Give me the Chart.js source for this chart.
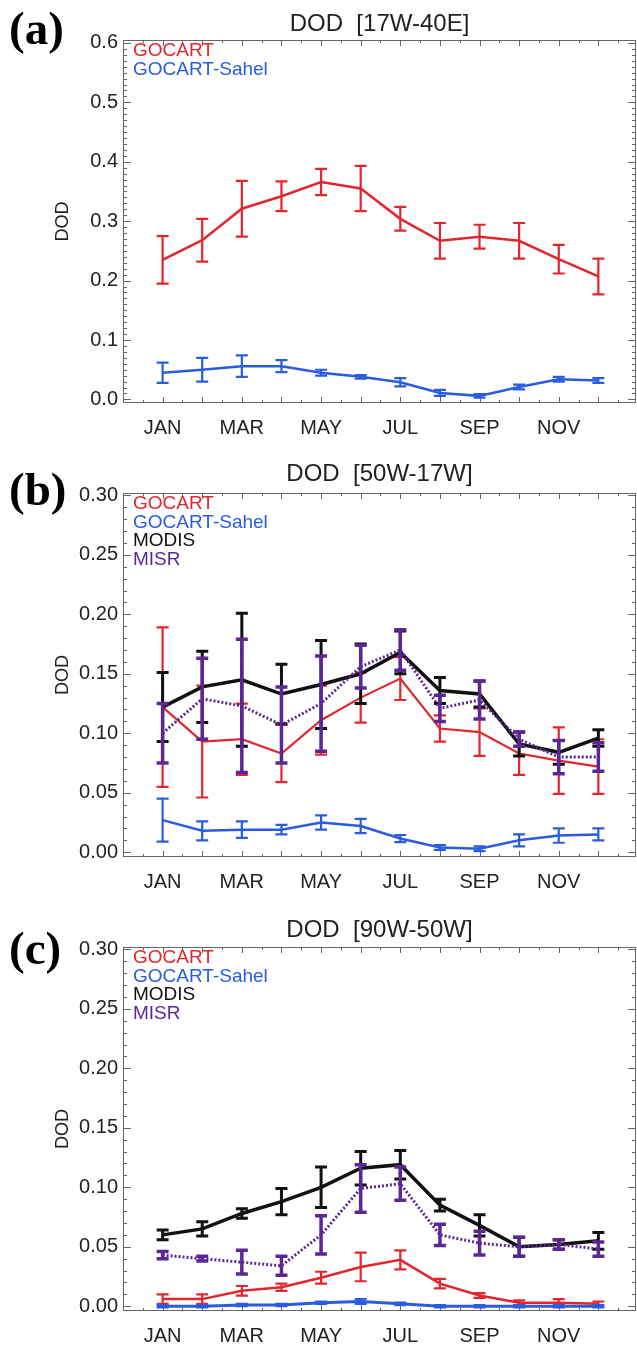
<!DOCTYPE html>
<html>
<head>
<meta charset="utf-8">
<title>DOD</title>
<script src="https://cdn.jsdelivr.net/npm/chart.js@4.4.1/dist/chart.umd.min.js"></script>
<style>
  body { margin: 0; background: #fff; }
  #page { position: relative; width: 637px; height: 1348px; overflow: hidden; }
  .panel { position: absolute; left: 0; width: 637px; }
  .tag { position: absolute; left: 9px; font: bold 47px 'Liberation Serif', 'Times New Roman', serif; line-height: 47px; color: #000; }
</style>
</head>
<body>
<div id="page">
  <div class="panel" style="top:0;height:450px"><canvas id="chartA" width="637" height="450"></canvas></div>
  <div class="panel" style="top:450px;height:450px"><canvas id="chartB" width="637" height="450"></canvas></div>
  <div class="panel" style="top:900px;height:448px"><canvas id="chartC" width="637" height="448"></canvas></div>
  <div class="tag" style="top:5px">(a)</div>
  <div class="tag" style="top:466px">(b)</div>
  <div class="tag" style="top:925px">(c)</div>
</div>
<script>
// months and x tick labels
const months = ['JAN', 'FEB', 'MAR', 'APR', 'MAY', 'JUN', 'JUL', 'AUG', 'SEP', 'OCT', 'NOV', 'DEC'];
const monthNum = [1, 2, 3, 4, 5, 6, 7, 8, 9, 10, 11, 12];
const xTickMonths = [1, 3, 5, 7, 9, 11];

// y tick labels
const aYTicks = [0, 0.1, 0.2, 0.3, 0.4, 0.5, 0.6];
const bcYTicks = [0, 0.05, 0.10, 0.15, 0.20, 0.25, 0.30];

// (a) DOD [17W-40E]
const aGocart = [0.235, 0.268, 0.321, 0.342, 0.366, 0.355, 0.304, 0.267, 0.274, 0.267, 0.236, 0.207];
const aGocartErr = [0.040, 0.036, 0.047, 0.025, 0.022, 0.038, 0.020, 0.030, 0.020, 0.030, 0.024, 0.030];
const aSahel = [0.045, 0.050, 0.056, 0.056, 0.045, 0.038, 0.029, 0.011, 0.006, 0.021, 0.034, 0.032];
const aSahelErr = [0.017, 0.020, 0.018, 0.010, 0.005, 0.003, 0.007, 0.005, 0.003, 0.004, 0.004, 0.004];

// (b) DOD [50W-17W]
const bGocart = [0.122, 0.093, 0.095, 0.083, 0.111, 0.130, 0.146, 0.104, 0.101, 0.083, 0.077, 0.072];
const bGocartErr = [0.067, 0.047, 0.030, 0.024, 0.029, 0.021, 0.018, 0.011, 0.020, 0.018, 0.028, 0.023];
const bSahel = [0.027, 0.018, 0.019, 0.019, 0.025, 0.022, 0.0115, 0.004, 0.003, 0.010, 0.014, 0.015];
const bSahelErr = [0.018, 0.008, 0.007, 0.004, 0.006, 0.006, 0.003, 0.002, 0.002, 0.005, 0.006, 0.005];
const bModis = [0.122, 0.139, 0.145, 0.133, 0.141, 0.150, 0.168, 0.136, 0.133, 0.091, 0.084, 0.096];
const bModisErr = [0.029, 0.030, 0.056, 0.025, 0.037, 0.025, 0.018, 0.011, 0.011, 0.010, 0.010, 0.007];
const bMisr = [0.100, 0.129, 0.123, 0.107, 0.125, 0.156, 0.170, 0.121, 0.128, 0.095, 0.080, 0.080];
const bMisrErr = [0.025, 0.034, 0.056, 0.032, 0.040, 0.018, 0.017, 0.011, 0.016, 0.006, 0.014, 0.012];

// (c) DOD [90W-50W]
const cGocart = [0.006, 0.006, 0.013, 0.016, 0.024, 0.033, 0.039, 0.019, 0.009, 0.003, 0.003, 0.002];
const cGocartErr = [0.004, 0.004, 0.004, 0.003, 0.005, 0.012, 0.008, 0.004, 0.002, 0.002, 0.003, 0.002];
const cSahel = [0.000, 0.000, 0.001, 0.001, 0.003, 0.004, 0.002, 0.000, 0.000, 0.000, 0.000, 0.000];
const cSahelErr = [0.001, 0.001, 0.001, 0.001, 0.001, 0.002, 0.001, 0.001, 0.001, 0.001, 0.001, 0.001];
const cModis = [0.060, 0.065, 0.078, 0.088, 0.100, 0.116, 0.119, 0.085, 0.068, 0.050, 0.052, 0.055];
const cModisErr = [0.004, 0.006, 0.004, 0.011, 0.017, 0.014, 0.012, 0.005, 0.009, 0.008, 0.004, 0.007];
const cMisr = [0.043, 0.040, 0.037, 0.034, 0.060, 0.099, 0.103, 0.060, 0.053, 0.050, 0.052, 0.048];
const cMisrErr = [0.003, 0.002, 0.010, 0.008, 0.016, 0.020, 0.014, 0.009, 0.010, 0.008, 0.004, 0.006];

const RED = '#e3262d';
const BLUE = '#2a5ce0';
const BLACK = '#111111';
const PURPLE = '#5b2796';

Chart.defaults.font.family = "'Liberation Sans', Arial, sans-serif";

// box round the plot, ticks pointing inwards
const framePlugin = {
  id: 'frame',
  beforeDatasetsDraw(chart, args, opts) {
    const { ctx, chartArea: a, scales: { x, y } } = chart;
    ctx.save();
    ctx.strokeStyle = '#666';
    ctx.lineWidth = 1;
    ctx.strokeRect(a.left + 0.5, a.top + 0.5, a.width - 1, a.height - 1);
    ctx.beginPath();
    for (let k = 0; k / 2 <= x.max; k++) {
      const px = Math.round(x.getPixelForValue(k / 2)) + 0.5;
      const len = k % 2 === 0 ? 6 : 3;
      ctx.moveTo(px, a.bottom); ctx.lineTo(px, a.bottom - len);
      ctx.moveTo(px, a.top); ctx.lineTo(px, a.top + len);
    }
    for (let k = 0; k * opts.minor <= y.max + 1e-9; k++) {
      const v = k * opts.minor;
      const r = v / opts.major;
      const len = Math.abs(r - Math.round(r)) < 1e-6 ? 8 : 4;
      const py = Math.round(y.getPixelForValue(v)) + 0.5;
      ctx.moveTo(a.left, py); ctx.lineTo(a.left + len, py);
      ctx.moveTo(a.right, py); ctx.lineTo(a.right - len, py);
    }
    ctx.stroke();
    ctx.restore();
  }
};

// vertical error bars with caps, drawn right after each line
const errorBarPlugin = {
  id: 'errorBars',
  afterDatasetDraw(chart, args) {
    const ds = chart.data.datasets[args.index];
    const y = chart.scales.y;
    const ctx = chart.ctx;
    const cap = 6;
    ctx.save();
    ctx.strokeStyle = ds.borderColor;
    ctx.lineWidth = ds.errWidth;
    ctx.setLineDash([]);
    ctx.beginPath();
    args.meta.data.forEach((pt, i) => {
      const v = ds.data[i].y;
      const e = ds.errors[i];
      const hi = y.getPixelForValue(v + e);
      const lo = y.getPixelForValue(v - e);
      ctx.moveTo(pt.x, hi); ctx.lineTo(pt.x, lo);
      ctx.moveTo(pt.x - cap, hi); ctx.lineTo(pt.x + cap, hi);
      ctx.moveTo(pt.x - cap, lo); ctx.lineTo(pt.x + cap, lo);
    });
    ctx.stroke();
    ctx.restore();
  }
};

// coloured series names in the top left corner
const legendTextPlugin = {
  id: 'legendText',
  afterDraw(chart) {
    const { ctx, chartArea: a } = chart;
    ctx.save();
    ctx.font = "19px 'Liberation Sans', Arial, sans-serif";
    ctx.textBaseline = 'middle';
    ctx.textAlign = 'left';
    chart.data.datasets.forEach((ds, i) => {
      ctx.fillStyle = ds.borderColor;
      ctx.fillText(ds.label, a.left + 10, a.top + 11 + i * 18.6);
    });
    ctx.restore();
  }
};

function makeSeries(label, values, errors, color, width, errWidth, order, dash) {
  return {
    label: label,
    data: monthNum.map((m, i) => ({ x: m, y: values[i] })),
    errors: errors,
    borderColor: color,
    backgroundColor: color,
    borderWidth: width,
    borderDash: dash || [],
    errWidth: errWidth,
    pointRadius: 0,
    tension: 0,
    fill: false,
    order: order
  };
}

function panelConfig(p) {
  return {
    type: 'line',
    data: { datasets: p.datasets },
    options: {
      responsive: false,
      animation: false,
      events: [],
      layout: { padding: { left: 0, right: 1, top: 0, bottom: 0 } },
      plugins: {
        legend: { display: false },
        tooltip: { enabled: false },
        title: {
          display: true,
          text: p.title,
          fullSize: false,
          color: '#222',
          font: { size: 24, weight: 'normal' },
          padding: { top: p.titleTop, bottom: p.titleBottom }
        },
        frame: { minor: 0.01, major: p.yMajor }
      },
      scales: {
        x: {
          type: 'linear',
          min: 0,
          max: 12.95,
          grid: { display: false, drawTicks: false },
          border: { display: false },
          afterBuildTicks: s => { s.ticks = xTickMonths.map(v => ({ value: v })); },
          afterFit: s => { s.height = p.xHeight; },
          ticks: {
            padding: 13,
            color: '#222',
            font: { size: 20 },
            maxRotation: 0,
            autoSkip: false,
            callback: v => months[v - 1]
          }
        },
        y: {
          min: p.yMin,
          max: p.yMax,
          grid: { display: false, drawTicks: false },
          border: { display: false },
          afterBuildTicks: s => { s.ticks = p.yTicks.map(v => ({ value: v })); },
          afterFit: s => { s.width = 123; },
          ticks: {
            padding: 5,
            color: '#222',
            font: { size: 20 },
            callback: v => v.toFixed(p.decimals)
          },
          title: {
            display: true,
            text: 'DOD',
            color: '#222',
            font: { size: 18 },
            padding: { top: 52, bottom: 0 }
          }
        }
      }
    },
    plugins: [framePlugin, errorBarPlugin, legendTextPlugin]
  };
}

// panel (a)
const chartA = new Chart(document.getElementById('chartA'), panelConfig({
  title: 'DOD  [17W-40E]',
  titleTop: 9.6, titleBottom: 1.6, xHeight: 47,
  yMin: -0.006, yMax: 0.605, yTicks: aYTicks, yMajor: 0.1, decimals: 1,
  datasets: [
    makeSeries('GOCART', aGocart, aGocartErr, RED, 2.5, 2.2, 2),
    makeSeries('GOCART-Sahel', aSahel, aSahelErr, BLUE, 2.5, 2.2, 1)
  ]
}));

// panel (b)
const chartB = new Chart(document.getElementById('chartB'), panelConfig({
  title: 'DOD  [50W-17W]',
  titleTop: 9.6, titleBottom: 4.6, xHeight: 43,
  yMin: -0.004, yMax: 0.302, yTicks: bcYTicks, yMajor: 0.05, decimals: 2,
  datasets: [
    makeSeries('GOCART', bGocart, bGocartErr, RED, 2.2, 2.2, 4),
    makeSeries('GOCART-Sahel', bSahel, bSahelErr, BLUE, 2.5, 2.2, 3),
    makeSeries('MODIS', bModis, bModisErr, BLACK, 3.5, 3, 2),
    makeSeries('MISR', bMisr, bMisrErr, PURPLE, 3, 3.5, 1, [2, 2])
  ]
}));

// panel (c)
const chartC = new Chart(document.getElementById('chartC'), panelConfig({
  title: 'DOD  [90W-50W]',
  titleTop: 15.6, titleBottom: 2.6, xHeight: 37,
  yMin: -0.004, yMax: 0.302, yTicks: bcYTicks, yMajor: 0.05, decimals: 2,
  datasets: [
    makeSeries('GOCART', cGocart, cGocartErr, RED, 2.5, 2.2, 4),
    makeSeries('GOCART-Sahel', cSahel, cSahelErr, BLUE, 3, 2.2, 3),
    makeSeries('MODIS', cModis, cModisErr, BLACK, 3.5, 3, 2),
    makeSeries('MISR', cMisr, cMisrErr, PURPLE, 3, 3.5, 1, [2, 2])
  ]
}));
</script>
</body>
</html>
